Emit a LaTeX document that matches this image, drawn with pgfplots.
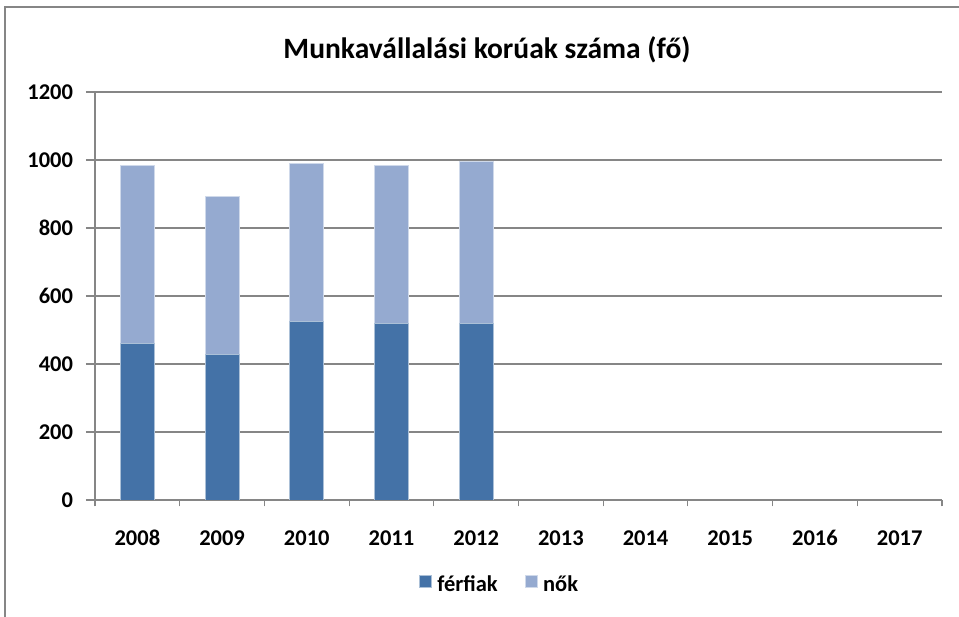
\documentclass[border=0pt]{standalone}
\usepackage{pgfplots}
\pgfplotsset{compat=1.18}
\usepackage{fontspec}
\setmainfont{Carlito}
\definecolor{ferfi}{RGB}{68,114,167}
\definecolor{noi}{RGB}{149,170,208}
\definecolor{gridc}{RGB}{134,134,134}
\begin{document}
\begin{tikzpicture}
\useasboundingbox (0,0) rectangle (239.75mm,154.25mm);
\fill[white] (0,0) rectangle (239.75mm,154.25mm);
\draw[gridc, line width=0.8pt] (1.25mm,0) -- (1.25mm,152.5mm) -- (239.75mm,152.5mm);
\node[font=\bfseries\fontsize{21}{24}\selectfont] at (121.75mm,141.75mm) {Munkavállalási korúak száma (fő)};
\begin{axis}[
  at={(23.75mm,29.25mm)}, anchor=south west,
  scale only axis, width=211.75mm, height=102mm,
  ybar stacked, bar width=8.5mm,
  xmin=-0.5, xmax=9.5, ymin=0, ymax=1200,
  xtick={0,...,9},
  xticklabels={2008,2009,2010,2011,2012,2013,2014,2015,2016,2017},
  minor xtick={-0.5,0.5,...,9.5},
  major x tick style={draw=none},
  ytick={0,200,...,1200},
  ymajorgrids, grid style={gridc, line width=0.8pt},
  axis x line*=bottom, axis y line*=left,
  axis line style={-, gridc, line width=0.8pt},
  tick align=outside,
  tick style={gridc, line width=0.8pt},
  major tick length=2.25mm, minor tick length=1.6mm,
  ticklabel style={font=\bfseries\fontsize{16}{19}\selectfont},
  xticklabel style={text height=2.6mm, text depth=0pt, yshift=-5.3mm},
  yticklabel style={xshift=-2mm},
  /pgf/number format/assume math mode=true,
  /pgf/number format/1000 sep={},
  legend style={at={(0.478,-0.208)}, anchor=center, draw=none, fill=none,
    legend columns=2, font=\bfseries\fontsize{16}{19}\selectfont,
    /tikz/every odd column/.append style={column sep=0.8mm},
    /tikz/every even column/.append style={column sep=6mm}},
  legend image code/.code={\draw[#1] (0mm,-0.6mm) rectangle (3mm,2.4mm);},
]
\addplot[fill=ferfi, draw=white!55!ferfi, line width=0.4pt] coordinates {(0,461) (1,428) (2,525) (3,520) (4,520)};
\addplot[fill=noi, draw=white!55!noi, line width=0.4pt] coordinates {(0,524) (1,466) (2,465) (3,465) (4,477)};
\legend{férfiak, nők}
\end{axis}
\end{tikzpicture}
\end{document}
